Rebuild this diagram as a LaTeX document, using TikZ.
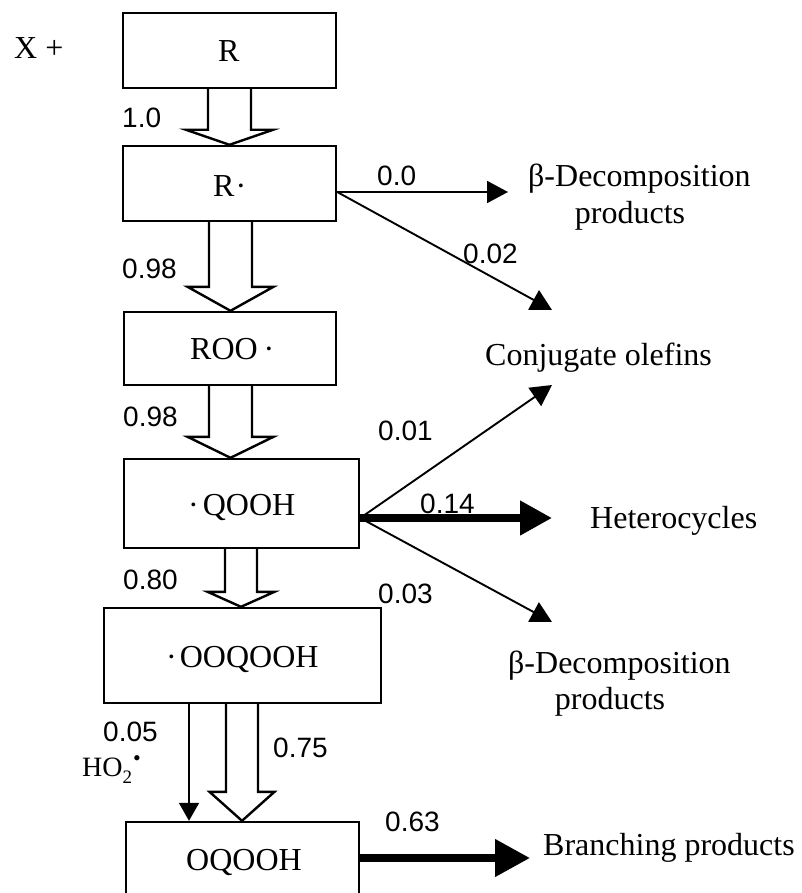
\documentclass[tikz,border=0pt]{standalone}
\usepackage{fontspec}
\setmainfont{Liberation Serif}
\newfontfamily\numfont{Liberation Sans}
\usetikzlibrary{arrows.meta,calc}
\tikzset{
  box/.style={draw, line width=2.4pt, inner sep=0pt},
  txt/.style={inner sep=0pt, anchor=base west, font=\fontsize{32}{38}\selectfont},
  ctxt/.style={inner sep=0pt, anchor=base, font=\fontsize{32}{38}\selectfont},
  num/.style={inner sep=0pt, anchor=base west, font=\numfont\fontsize{28}{34}\selectfont},
  fat/.style={line width=2.4pt, line join=miter},
  thinarr/.style={line width=1.9pt, -{Triangle[length=21pt,width=22pt]}},
  thinvert/.style={line width=1.9pt, -{Triangle[length=18pt,width=20pt]}},
  thickarr/.style={line width=7.5pt, -{Triangle[length=32pt,width=33pt]}},
  thickarrb/.style={line width=7.5pt, -{Triangle[length=35pt,width=36pt]}},
}
\newcommand\myhollow[6]{%
  \draw[fat] let \p1=(#1.south), \p2=(#2.north) in
    ({(#3-#4)*1pt},\y1) -- ({(#3-#4)*1pt},\y2+#6pt) -- ({(#3-#5)*1pt},\y2+#6pt)
    -- ({#3*1pt},\y2) -- ({(#3+#5)*1pt},\y2+#6pt) -- ({(#3+#4)*1pt},\y2+#6pt)
    -- ({(#3+#4)*1pt},\y1);}
\begin{document}
\begin{tikzpicture}[x=1pt,y=-1pt]
\useasboundingbox (0,0) rectangle (802,893);
\clip (0,0) rectangle (802,893);
% boxes
\node[box, minimum width=213pt, minimum height=75pt] (R) at (229.5,50.5) {};
\node[box, minimum width=213pt, minimum height=75pt] (Rd) at (229.5,183.5) {};
\node[box, minimum width=212pt, minimum height=73pt] (ROO) at (230,348.5) {};
\node[box, minimum width=235pt, minimum height=89pt] (QOOH) at (241.5,503.5) {};
\node[box, minimum width=277pt, minimum height=95pt] (OOQ) at (242.5,655.5) {};
\node[box, minimum width=233pt, minimum height=100pt] (OQ) at (242.5,872) {};
% box texts
\node[txt] (tR) at (218,62) {R};
\node[txt] (tRd) at (213,197) {R\kern1pt·};
\node[txt] (tROO) at (190,359) {ROO\kern6pt·};
\node[txt] (tQOOH) at (188,515) {·\kern4pt QOOH};
\node[txt] (tOOQ) at (166,667) {·\kern3pt OOQOOH};
\node[txt] (tOQ) at (186,870) {OQOOH};
% hollow arrows
\myhollow{R}{Rd}{229.5}{21.5}{43.5}{15}
\myhollow{Rd}{ROO}{230.5}{21.5}{43}{24}
\myhollow{ROO}{QOOH}{230.5}{21.5}{43}{21}
\myhollow{QOOH}{OOQ}{241}{16}{33.5}{15}
\myhollow{OOQ}{OQ}{242}{16}{32.5}{29}
% thin vertical arrow
\coordinate (v1) at (189,0);
\draw[thinvert] (OOQ.south -| v1) -- (OQ.north -| v1);
% branches
\coordinate (o1) at ($(Rd.east)+(0,8.5)$);
\coordinate (t1) at (508,192);
\coordinate (t2) at (552,310);
\draw[thinarr] (o1) -- (t1);
\draw[thinarr] (o1) -- (t2);
\coordinate (o2) at ($(QOOH.east)+(0,14.5)$);
\coordinate (t3) at (552,385);
\coordinate (t4) at (552,518);
\coordinate (t5) at (552,622);
\draw[thinarr] (o2) -- (t3);
\draw[thickarr] (o2) -- (t4);
\draw[thinarr] (o2) -- (t5);
\coordinate (o3) at ($(OQ.east)+(0,-14)$);
\coordinate (t6) at (530,858);
\draw[thickarrb] (o3) -- (t6);
% numbers
\node[num] (n1) at (122,128) {1.0};
\node[num] (n2) at (122,278) {0.98};
\node[num] (n3) at (123,426) {0.98};
\node[num] (n4) at (123,589) {0.80};
\node[num] (n5) at (378,603) {0.03};
\node[num] (n6) at (103,741) {0.05};
\node[num] (n7) at (273,757) {0.75};
\node[num] (n8) at (377,186) {0.0};
\node[num] (n9) at (463,263) {0.02};
\node[num] (n10) at (378,440) {0.01};
\node[num] (n11) at (420,513) {0.14};
\node[num] (n12) at (385,831) {0.63};
% texts
\node[txt] (X) at (14,59) {X +};
\node[txt] (bd1) at (528,187) {β-Decomposition};
\node[ctxt] (pr1) at (630,224) {products};
\node[txt] (co) at (485,365) {Conjugate olefins};
\node[txt] (he) at (590,528) {Heterocycles};
\node[txt] (bd2) at (508,673) {β-Decomposition};
\node[ctxt] (pr2) at (610,709) {products};
\node[txt] (br) at (543,855) {Branching products};
\node[inner sep=0pt, anchor=base west, font=\fontsize{28}{34}\selectfont] (ho) at (82,776)
  {HO\raisebox{-7pt}{\fontsize{19}{19}\selectfont 2}\kern1pt\raisebox{11pt}{\fontsize{22}{22}\selectfont •}};
\end{tikzpicture}
\end{document}
